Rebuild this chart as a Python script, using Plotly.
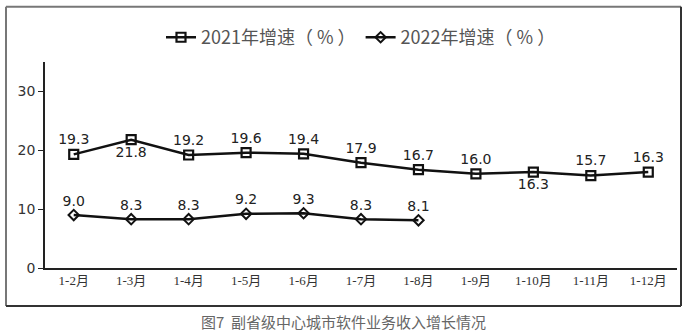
import plotly.graph_objects as go

categories = ["1-2月", "1-3月", "1-4月", "1-5月", "1-6月", "1-7月", "1-8月", "1-9月", "1-10月", "1-11月", "1-12月"]
growth_2021 = [19.3, 21.8, 19.2, 19.6, 19.4, 17.9, 16.7, 16.0, 16.3, 15.7, 16.3]
growth_2022 = [9.0, 8.3, 8.3, 9.2, 9.3, 8.3, 8.1]
label_pos_2021 = ["top center", "bottom center", "top center", "top center", "top center", "top center",
                  "top center", "top center", "bottom center", "top center", "top center"]
name_2021 = "2021年增速（ % ）"
name_2022 = "2022年增速（ % ）"
caption = "图7  副省级中心城市软件业务收入增长情况"

label_font = dict(family="DejaVu Sans", size=14, color="#222")

fig = go.Figure()
fig.add_trace(go.Scatter(
    x=categories, y=growth_2021, name=name_2021, mode="lines+markers+text",
    line=dict(color="#111", width=2.5),
    marker=dict(symbol="square-open", size=9, color="#111", line=dict(width=2.2, color="#111")),
    text=[f"{v:.1f}" for v in growth_2021], textposition=label_pos_2021,
    textfont=label_font, cliponaxis=False,
))
fig.add_trace(go.Scatter(
    x=categories[:len(growth_2022)], y=growth_2022, name=name_2022, mode="lines+markers+text",
    line=dict(color="#111", width=2.5),
    marker=dict(symbol="diamond-open", size=8, color="#111", line=dict(width=2, color="#111")),
    text=[f"{v:.1f}" for v in growth_2022], textposition="top center",
    textfont=label_font, cliponaxis=False,
))

# frame lines (decoration) in paper coords
def px_x(px):
    return (px - 45) / 632.0

def px_y(py):
    return (268 - py) / 206.5

shapes = [
    dict(type="line", xref="paper", yref="paper", x0=px_x(6), x1=px_x(681), y0=px_y(6), y1=px_y(6), line=dict(color="#777", width=2)),
    dict(type="line", xref="paper", yref="paper", x0=px_x(6), x1=px_x(6), y0=px_y(6), y1=px_y(306), line=dict(color="#777", width=2)),
    dict(type="line", xref="paper", yref="paper", x0=px_x(681), x1=px_x(681), y0=px_y(6), y1=px_y(306), line=dict(color="#333", width=2)),
    dict(type="line", xref="paper", yref="paper", x0=px_x(6), x1=px_x(681), y0=px_y(306), y1=px_y(306), line=dict(color="#333", width=2)),
]

fig.update_layout(
    width=686, height=333,
    margin=dict(l=45, r=9, t=61.5, b=65),
    paper_bgcolor="white", plot_bgcolor="white",
    showlegend=True,
    legend=dict(orientation="h", x=0.5, xanchor="center", y=px_y(37), yanchor="middle",
                font=dict(family="Noto Sans CJK SC", size=18, color="#555"),
                itemwidth=30, bgcolor="rgba(0,0,0,0)"),
    shapes=shapes,
    annotations=[dict(text=caption, xref="paper", yref="paper", x=px_x(343), y=px_y(322),
                      xanchor="center", yanchor="middle", showarrow=False,
                      font=dict(family="Noto Sans CJK SC", size=15, color="#666"))],
    xaxis=dict(type="category", range=[-0.5, 10.5], showgrid=False, showline=True,
               linecolor="#222", linewidth=1.5, ticks="",
               tickfont=dict(family="Liberation Serif, Noto Sans CJK SC", size=13, color="#333")),
    yaxis=dict(range=[0, 35], tickvals=[0, 10, 20, 30], showgrid=False, showline=True,
               linecolor="#222", linewidth=1.5, ticks="outside", ticklen=5, tickcolor="#222",
               zeroline=False,
               tickfont=dict(family="DejaVu Sans", size=14, color="#333")),
)

fig.write_html("out.html")
